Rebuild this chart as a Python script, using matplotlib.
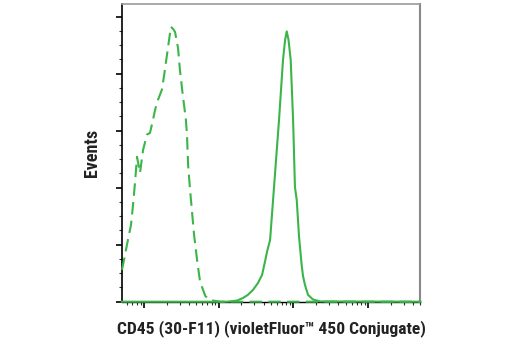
import numpy as np
import matplotlib
matplotlib.use('Agg')
import matplotlib.pyplot as plt
from matplotlib.ticker import MultipleLocator, LogLocator, NullFormatter

# isotype control (dashed): log10 intensity, events (in major-tick units)
ctrl_logx = [1.705, 1.732, 1.772, 1.826, 1.853, 1.88, 1.906, 1.946, 1.987,
             2.04, 2.08, 2.12, 2.147, 2.187, 2.24, 2.28, 2.32, 2.36, 2.39,
             2.415, 2.455, 2.48, 2.51, 2.56, 2.575, 2.59, 2.616, 2.64, 2.67,
             2.71, 2.75, 2.82, 2.88, 3.02, 5.70]
ctrl_y = [0.56, 0.73, 1.0, 1.35, 1.70, 2.10, 2.54, 2.26, 2.66,
          2.93, 2.96, 3.19, 3.36, 3.54, 3.72, 4.07, 4.45, 4.82, 4.78,
          4.73, 4.45, 4.07, 3.72, 3.19, 2.92, 2.40, 1.96, 1.61, 1.17,
          0.73, 0.35, 0.10, 0.03, 0.0, 0.0]

# CD45 stained (solid)
cd45_logx = [1.705, 3.10, 3.151, 3.245, 3.325, 3.39, 3.46, 3.526, 3.58, 3.62,
             3.647, 3.687, 3.727, 3.767, 3.807, 3.86, 3.888, 3.91, 3.934,
             3.963, 3.995, 4.02, 4.044, 4.075, 4.11, 4.128, 4.155, 4.195,
             4.26, 4.356, 5.70]
cd45_y = [0.0, 0.0, 0.005, 0.02, 0.065, 0.12, 0.21, 0.33, 0.47, 0.71,
          0.88, 1.08, 1.78, 2.49, 3.19, 4.24, 4.59, 4.74, 4.59,
          4.24, 3.19, 2.01, 1.78, 1.135, 0.64, 0.45, 0.29, 0.12,
          0.04, 0.005, 0.0]

GREEN = '#3bb54a'

plt.rcParams['font.family'] = ['Roboto Condensed', 'DejaVu Sans']

fig = plt.figure(figsize=(5.2, 3.5), dpi=100)
ax = fig.add_axes([0.2346, 0.138, 0.574, 0.8506])

ax.plot(10 ** np.array(ctrl_logx), ctrl_y, color=GREEN, lw=1.5,
        dashes=(6, 3), clip_on=False, zorder=3)
ax.plot(10 ** np.array(cd45_logx), cd45_y, color=GREEN, lw=1.5,
        clip_on=False, zorder=3)

ax.set_xscale('log')
ax.set_xlim(10 ** 1.705, 10 ** 5.70)
ax.set_ylim(0, 5.22)

ax.xaxis.set_major_locator(LogLocator(base=10, numticks=10))
ax.xaxis.set_minor_locator(LogLocator(base=10, subs=np.arange(2, 10), numticks=20))
ax.xaxis.set_major_formatter(NullFormatter())
ax.xaxis.set_minor_formatter(NullFormatter())
ax.yaxis.set_major_locator(MultipleLocator(1))
ax.yaxis.set_minor_locator(MultipleLocator(0.25))
ax.yaxis.set_major_formatter(NullFormatter())

ax.tick_params(which='major', direction='out', length=4.5, width=1.2, color='black')
ax.tick_params(which='minor', direction='out', length=2.2, width=0.8, color='#333333')
ax.tick_params(top=False, right=False)

ax.spines['left'].set_color('black')
ax.spines['left'].set_linewidth(1.2)
ax.spines['bottom'].set_color('black')
ax.spines['bottom'].set_linewidth(1.0)
ax.spines['top'].set_color('#999999')
ax.spines['top'].set_linewidth(1.2)
ax.spines['right'].set_color('#888888')
ax.spines['right'].set_linewidth(1.5)

ax.set_ylabel('Events', fontsize=13, fontweight='bold', color='#222222', labelpad=7)
ax.set_xlabel('CD45 (30-F11) (violetFluor\u2122 450 Conjugate)', fontsize=12.6,
              fontweight='bold', color='#222222', labelpad=5)

fig.savefig('out.png', dpi=100)
